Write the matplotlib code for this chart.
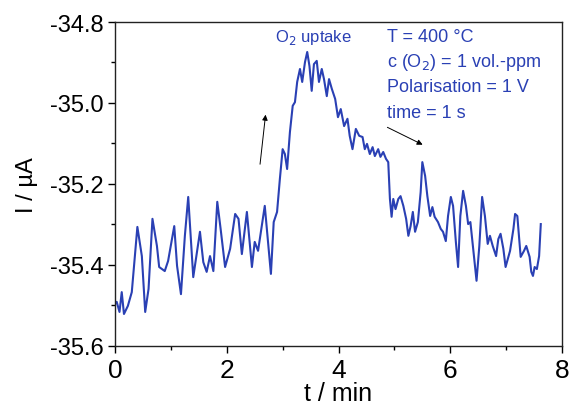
import matplotlib
matplotlib.use("Agg")
import matplotlib.pyplot as plt
from matplotlib.ticker import MultipleLocator

plt.rcParams['font.family'] = ['Liberation Sans', 'DejaVu Sans']

# current trace (t in min, I in uA)
t_min = [0.00, 0.03, 0.08, 0.12, 0.16, 0.23, 0.30, 0.40, 0.48, 0.54,
         0.60, 0.67, 0.75, 0.79, 0.89, 0.95, 1.06, 1.11, 1.18, 1.25,
         1.31, 1.40, 1.52, 1.58, 1.64, 1.70, 1.76, 1.83, 1.89, 1.97,
         2.06, 2.15, 2.21, 2.27, 2.36, 2.45, 2.50, 2.56, 2.68, 2.79,
         2.84, 2.90, 2.95, 3.00, 3.04, 3.08, 3.13, 3.18, 3.22, 3.26,
         3.31, 3.35, 3.40, 3.44, 3.48, 3.52, 3.56, 3.61, 3.65, 3.70,
         3.74, 3.79, 3.83, 3.88, 3.94, 3.99, 4.04, 4.10, 4.16, 4.20,
         4.25, 4.31, 4.37, 4.43, 4.47, 4.51, 4.56, 4.61, 4.65, 4.71,
         4.75, 4.80, 4.85, 4.89, 4.92, 4.95, 4.98, 5.02, 5.07, 5.11,
         5.16, 5.21, 5.25, 5.29, 5.33, 5.37, 5.42, 5.47, 5.50, 5.55,
         5.59, 5.64, 5.68, 5.72, 5.78, 5.83, 5.87, 5.92, 5.96, 6.01,
         6.05, 6.10, 6.14, 6.18, 6.23, 6.28, 6.32, 6.36, 6.41, 6.47,
         6.52, 6.57, 6.62, 6.67, 6.71, 6.76, 6.82, 6.86, 6.90, 6.95,
         6.99, 7.07, 7.13, 7.16, 7.20, 7.26, 7.32, 7.36, 7.42, 7.45,
         7.48, 7.51, 7.55, 7.59, 7.62]
current = [-35.496, -35.491, -35.516, -35.467, -35.521, -35.501, -35.467, -35.306, -35.378, -35.516,
           -35.459, -35.286, -35.353, -35.405, -35.415, -35.390, -35.304, -35.402, -35.472, -35.328,
           -35.232, -35.430, -35.318, -35.393, -35.417, -35.378, -35.415, -35.244, -35.311, -35.405,
           -35.360, -35.274, -35.286, -35.373, -35.269, -35.405, -35.343, -35.365, -35.254, -35.422,
           -35.294, -35.269, -35.188, -35.114, -35.126, -35.163, -35.072, -35.007, -34.998, -34.948,
           -34.916, -34.948, -34.899, -34.874, -34.909, -34.970, -34.904, -34.896, -34.948, -34.916,
           -34.941, -34.983, -34.941, -34.965, -34.990, -35.035, -35.015, -35.057, -35.039, -35.081,
           -35.114, -35.064, -35.081, -35.084, -35.114, -35.101, -35.126, -35.109, -35.131, -35.114,
           -35.133, -35.121, -35.138, -35.146, -35.237, -35.281, -35.237, -35.262, -35.237, -35.230,
           -35.254, -35.286, -35.328, -35.304, -35.269, -35.318, -35.294, -35.220, -35.146, -35.180,
           -35.230, -35.279, -35.257, -35.281, -35.294, -35.311, -35.318, -35.341, -35.279, -35.232,
           -35.254, -35.343, -35.405, -35.279, -35.217, -35.254, -35.299, -35.294, -35.360, -35.439,
           -35.353, -35.232, -35.279, -35.348, -35.328, -35.353, -35.378, -35.336, -35.323, -35.360,
           -35.405, -35.365, -35.311, -35.274, -35.279, -35.380, -35.365, -35.353, -35.380, -35.417,
           -35.427, -35.405, -35.410, -35.378, -35.299]

conditions = ["T = 400 \u00b0C", "c (O$_2$) = 1 vol.-ppm", "Polarisation = 1 V", "time = 1 s"]

blue = '#2a40b4'

fig = plt.figure(figsize=(5.7, 4.1), dpi=100)
ax = fig.add_axes([0.2018, 0.1537, 0.7842, 0.7902])

ax.plot(t_min, current, color=blue, linewidth=1.5)

ax.set_xlim(0, 8)
ax.set_ylim(-35.6, -34.8)
ax.xaxis.set_major_locator(MultipleLocator(2))
ax.xaxis.set_minor_locator(MultipleLocator(1))
ax.yaxis.set_major_locator(MultipleLocator(0.2))
ax.yaxis.set_minor_locator(MultipleLocator(0.1))
ax.yaxis.set_major_formatter(plt.FormatStrFormatter('%.1f'))

ax.tick_params(which='major', direction='out', length=5, width=1,
               top=False, right=False)
ax.tick_params(which='minor', direction='out', length=3, width=1, top=False, right=False)
ax.tick_params(axis='y', which='major', labelsize=17, pad=3)
ax.tick_params(axis='x', which='major', labelsize=19, pad=4)
for s in ax.spines.values():
    s.set_linewidth(1.0)
    s.set_color('#222222')

ax.set_xlabel("t / min", fontsize=18, labelpad=-1)
ax.set_ylabel("I / \u00b5A", fontsize=17, labelpad=9)

ax.text(2.86, -34.837, "O$_2$ uptake", color=blue, fontsize=12, va='center', ha='left')

for i, line in enumerate(conditions):
    ax.text(4.87, -34.835 - i * 0.0625, line, color=blue, fontsize=13, va='center', ha='left')

# arrows: rise and fall
ax.annotate("", xy=(2.70, -35.022), xytext=(2.59, -35.158),
            arrowprops=dict(arrowstyle='-|>', color='black', lw=0.7, mutation_scale=8))
ax.annotate("", xy=(5.55, -35.106), xytext=(4.83, -35.057),
            arrowprops=dict(arrowstyle='-|>', color='black', lw=0.7, mutation_scale=8))

fig.savefig("out.png", dpi=100)
